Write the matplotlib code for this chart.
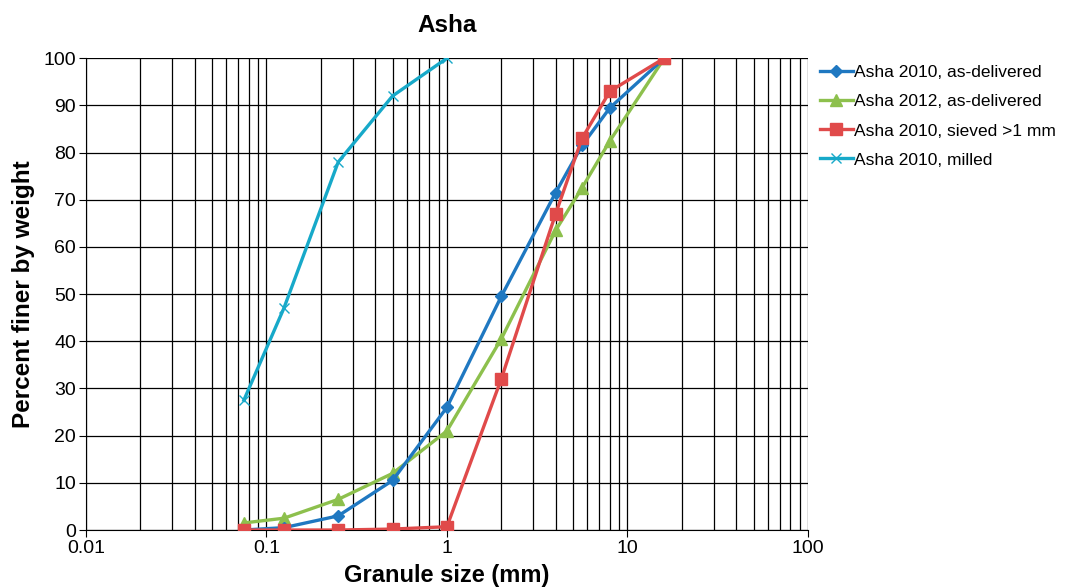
import matplotlib.pyplot as plt
from matplotlib.ticker import LogLocator, FixedLocator, NullFormatter, FuncFormatter

plt.rcParams['font.family'] = ['Liberation Sans', 'DejaVu Sans']

# sieve sizes (mm)
size_full = [0.075, 0.125, 0.25, 0.5, 1, 2, 4, 5.6, 8, 16]
size_milled = [0.075, 0.125, 0.25, 0.5, 1]

asha2010_del = [0, 0.5, 3, 10.5, 26, 49.5, 71.5, 81.5, 89.5, 100]
asha2012_del = [1.5, 2.5, 6.5, 12, 21, 40.5, 63.5, 72.5, 82.5, 100]
asha2010_sieved = [0, 0, 0, 0.2, 0.7, 32, 67, 83, 93, 100]
asha2010_milled = [27.5, 47, 78, 92, 100]

labels = ['Asha 2010, as-delivered', 'Asha 2012, as-delivered',
          'Asha 2010, sieved >1 mm', 'Asha 2010, milled']

fig = plt.figure(figsize=(10.73, 5.88), dpi=100)
ax = fig.add_axes([0.080, 0.0986, 0.673, 0.8024])

ax.plot(size_full, asha2010_del, color='#1F78C1', marker='D', ms=6, lw=2.4, label=labels[0], zorder=4)
ax.plot(size_full, asha2012_del, color='#8DC04D', marker='^', ms=8, lw=2.4, label=labels[1], zorder=3)
ax.plot(size_full, asha2010_sieved, color='#E04A4A', marker='s', ms=8, lw=2.4, label=labels[2], zorder=5)
ax.plot(size_milled, asha2010_milled, color='#17A9C9', marker='x', ms=7, mew=1, lw=2.4, label=labels[3], zorder=3)

ax.set_xscale('log')
ax.set_xlim(0.01, 100)
ax.set_ylim(0, 100)
ax.xaxis.set_major_locator(FixedLocator([0.01, 0.1, 1, 10, 100]))
ax.xaxis.set_major_formatter(FuncFormatter(lambda v, p: '%g' % v))
ax.xaxis.set_minor_locator(LogLocator(base=10, subs=range(2, 10)))
ax.xaxis.set_minor_formatter(NullFormatter())
ax.set_yticks(range(0, 101, 10))

ax.grid(True, which='major', color='black', lw=0.9)
ax.grid(True, which='minor', axis='x', color='black', lw=0.9)
ax.set_axisbelow(True)

for s in ['top', 'right']:
    ax.spines[s].set_visible(False)
ax.tick_params(axis='both', which='major', labelsize=14, length=5, direction='out', pad=2)
ax.tick_params(axis='x', which='minor', length=0)

ax.set_title('Asha', fontsize=17.5, fontweight='bold', pad=19)
ax.set_xlabel('Granule size (mm)', fontsize=17, fontweight='bold', labelpad=5)
ax.set_ylabel('Percent finer by weight', fontsize=17.5, fontweight='bold', labelpad=6)

leg = fig.legend(loc='upper left', bbox_to_anchor=(0.764, 0.889), frameon=False,
                 fontsize=12.5, handlelength=1.9, handletextpad=0.1, labelspacing=0.8,
                 borderaxespad=0, borderpad=0)

fig.savefig('out.png', dpi=100)
